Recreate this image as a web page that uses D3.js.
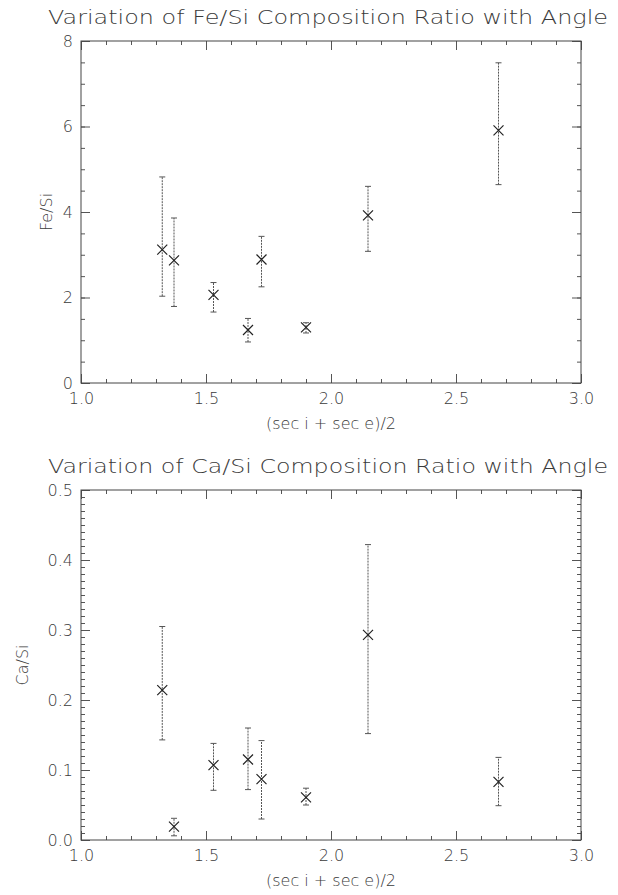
<!DOCTYPE html>
<html>
<head>
<meta charset="utf-8">
<script src="https://cdn.jsdelivr.net/npm/d3@7"></script>
<style>
  body { margin: 0; background: #fff; }
  text { font-family: 'DejaVu Sans', sans-serif; font-weight: 300; fill: #3a3a3a; }
</style>
</head>
<body>
<div id="chart"></div>
<script>
// (sec i + sec e)/2 of each observation
const angle = [1.325, 1.372, 1.53, 1.668, 1.722, 1.90, 2.148, 2.67];

const feSi = [3.12, 2.87, 2.06, 1.24, 2.89, 1.30, 3.92, 5.91];
const feSiLow = [2.03, 1.79, 1.66, 0.96, 2.25, 1.17, 3.08, 4.64];
const feSiHigh = [4.82, 3.86, 2.35, 1.51, 3.43, 1.41, 4.60, 7.49];

const caSi = [0.214, 0.019, 0.107, 0.115, 0.087, 0.061, 0.293, 0.083];
const caSiLow = [0.143, 0.006, 0.071, 0.072, 0.030, 0.050, 0.152, 0.049];
const caSiHigh = [0.305, 0.031, 0.138, 0.160, 0.142, 0.074, 0.422, 0.118];

const xTicks = [1.0, 1.5, 2.0, 2.5, 3.0];
const feTicks = [0, 2, 4, 6, 8];
const caTicks = [0.0, 0.1, 0.2, 0.3, 0.4, 0.5];

var width = 618, height = 895;
var left = 81, right = 581;

var svg = d3.select('#chart')
  .append('svg')
  .attr('width', width)
  .attr('height', height);

svg.append('rect').attr('width', width).attr('height', height).attr('fill', '#fff');

function range(a, b, step) {
  var out = [];
  for (var v = a; v <= b + step / 1000; v += step) out.push(+v.toFixed(4));
  return out;
}

function drawPanel(p) {
  var x = d3.scaleLinear().domain([1, 3]).range([left, right]);
  var y = d3.scaleLinear().domain(p.yDomain).range([p.bottom, p.top]);
  var g = svg.append('g');

  var xMinor = range(1, 3, 0.1);
  var yMinor = range(p.yDomain[0], p.yDomain[1], p.yMinorStep);

  // minor ticks, all four sides
  g.append('g').attr('transform', `translate(0,${p.bottom})`)
    .call(d3.axisBottom(x).tickValues(xMinor).tickSize(-4).tickFormat(''));
  g.append('g').attr('transform', `translate(0,${p.top})`)
    .call(d3.axisTop(x).tickValues(xMinor).tickSize(-4).tickFormat(''));
  g.append('g').attr('transform', `translate(${left},0)`)
    .call(d3.axisLeft(y).tickValues(yMinor).tickSize(-4).tickFormat(''));
  g.append('g').attr('transform', `translate(${right},0)`)
    .call(d3.axisRight(y).tickValues(yMinor).tickSize(-4).tickFormat(''));

  // major ticks + labels
  g.append('g').attr('transform', `translate(0,${p.bottom})`)
    .call(d3.axisBottom(x).tickValues(xTicks).tickSize(-9).tickPadding(10).tickFormat(d3.format('.1f')));
  g.append('g').attr('transform', `translate(0,${p.top})`)
    .call(d3.axisTop(x).tickValues(xTicks).tickSize(-9).tickFormat(''));
  g.append('g').attr('transform', `translate(${left},0)`)
    .call(d3.axisLeft(y).tickValues(p.yTicks).tickSize(-9).tickPadding(8).tickFormat(p.fmt));
  g.append('g').attr('transform', `translate(${right},0)`)
    .call(d3.axisRight(y).tickValues(p.yTicks).tickSize(-9).tickFormat(''));

  g.selectAll('.domain').remove();
  g.selectAll('.tick line').attr('stroke', '#555');
  g.selectAll('.tick text').style('font-size', '16px').attr('fill', '#3a3a3a');

  // frame
  g.append('rect')
    .attr('x', left).attr('y', p.top)
    .attr('width', right - left).attr('height', p.bottom - p.top)
    .attr('fill', 'none').attr('stroke', '#444').attr('stroke-width', 1);

  // title
  g.append('text')
    .attr('x', (left + right) / 2 - 3)
    .attr('y', p.top - 24)
    .attr('text-anchor', 'middle')
    .attr('dy', '0.35em')
    .style('font-size', '19px')
    .attr('textLength', 560)
    .attr('lengthAdjust', 'spacingAndGlyphs')
    .text(p.title);

  // x label
  g.append('text')
    .attr('x', (left + right) / 2)
    .attr('y', p.bottom + 40)
    .attr('text-anchor', 'middle')
    .attr('dy', '0.35em')
    .style('font-size', '16px')
    .text('(sec i + sec e)/2');

  // y label
  g.append('text')
    .attr('text-anchor', 'middle')
    .attr('transform', `translate(${p.ylabelX},${(p.top + p.bottom) / 2})rotate(-90)`)
    .attr('dy', '0.35em')
    .style('font-size', '16px')
    .text(p.ylabel);

  var pts = angle.map((a, i) => ({ x: a, v: p.values[i], lo: p.low[i], hi: p.high[i] }));

  // error bars (scan looks dotted grey)
  var eb = g.selectAll('.err').data(pts).join('g').attr('class', 'err')
    .attr('stroke', '#555').attr('stroke-width', 1);
  eb.append('line')
    .attr('x1', d => x(d.x)).attr('x2', d => x(d.x))
    .attr('y1', d => y(d.lo)).attr('y2', d => y(d.hi))
    .attr('stroke-dasharray', '2,1');
  eb.append('line')
    .attr('x1', d => x(d.x) - 3).attr('x2', d => x(d.x) + 3)
    .attr('y1', d => y(d.lo)).attr('y2', d => y(d.lo));
  eb.append('line')
    .attr('x1', d => x(d.x) - 3).attr('x2', d => x(d.x) + 3)
    .attr('y1', d => y(d.hi)).attr('y2', d => y(d.hi));

  // X markers
  g.selectAll('.pt').data(pts).join('path').attr('class', 'pt')
    .attr('transform', d => `translate(${x(d.x)},${y(d.v)})`)
    .attr('d', 'M-5,-5L5,5M-5,5L5,-5')
    .attr('stroke', '#222').attr('stroke-width', 1.2).attr('fill', 'none');
}

drawPanel({
  top: 41, bottom: 383,
  title: 'Variation of Fe/Si Composition Ratio with Angle',
  ylabel: 'Fe/Si', ylabelX: 46,
  yDomain: [0, 8], yTicks: feTicks, yMinorStep: 0.5, fmt: d3.format('d'),
  values: feSi, low: feSiLow, high: feSiHigh
});

drawPanel({
  top: 490, bottom: 840,
  title: 'Variation of Ca/Si Composition Ratio with Angle',
  ylabel: 'Ca/Si', ylabelX: 22,
  yDomain: [0, 0.5], yTicks: caTicks, yMinorStep: 0.01, fmt: d3.format('.1f'),
  values: caSi, low: caSiLow, high: caSiHigh
});
</script>
</body>
</html>
